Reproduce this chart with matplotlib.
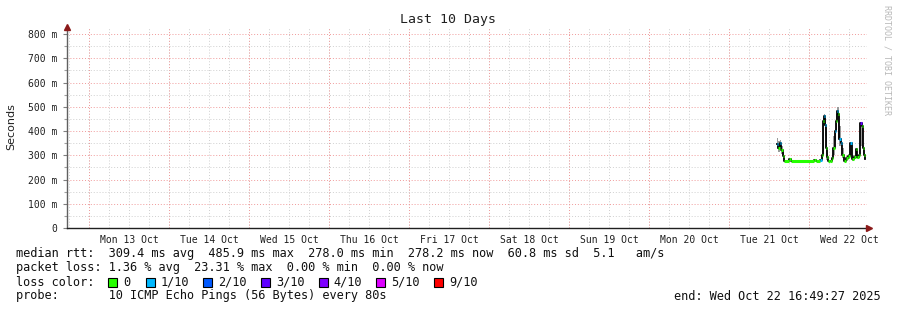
import matplotlib
matplotlib.use("Agg")
import matplotlib.pyplot as plt
import pandas as pd

# median rtt samples (ms), pings lost out of 10, and the smoke spread around them
sample_times = [
    "2025-10-21 14:15", "2025-10-21 14:42", "2025-10-21 15:09", "2025-10-21 15:36",
    "2025-10-21 16:03", "2025-10-21 16:30", "2025-10-21 18:00", "2025-10-21 18:27",
    "2025-10-22 01:30", "2025-10-22 02:06", "2025-10-22 03:09", "2025-10-22 03:45",
    "2025-10-22 04:03", "2025-10-22 04:21", "2025-10-22 04:39", "2025-10-22 04:57",
    "2025-10-22 05:19", "2025-10-22 05:42", "2025-10-22 06:18", "2025-10-22 06:49",
    "2025-10-22 07:12", "2025-10-22 07:39", "2025-10-22 08:06", "2025-10-22 08:24",
    "2025-10-22 08:42", "2025-10-22 09:05", "2025-10-22 09:27", "2025-10-22 09:49",
    "2025-10-22 10:21", "2025-10-22 11:01", "2025-10-22 11:42", "2025-10-22 12:09",
    "2025-10-22 12:23", "2025-10-22 12:49", "2025-10-22 13:30", "2025-10-22 14:01",
    "2025-10-22 14:29", "2025-10-22 15:00", "2025-10-22 15:23", "2025-10-22 15:45",
    "2025-10-22 16:07", "2025-10-22 16:30", "2025-10-22 16:48",
]
median_ms = [
    345, 330, 350, 322, 295, 278, 283, 278, 282, 278, 280, 300,
    440, 460, 425, 330, 294, 276, 278, 287, 330, 401, 440, 484,
    470, 367, 352, 301, 276, 287, 297, 330, 349, 283, 294, 325,
    291, 300, 434, 420, 331, 300, 283,
]
loss_pings = [
    1, 0, 1, 0, 0, 0, 0, 0, 0, 0, 1, 0,
    0, 1, 1, 0, 0, 0, 0, 0, 0, 1, 0, 1,
    0, 1, 1, 0, 0, 0, 0, 0, 1, 0, 0, 0,
    0, 0, 3, 0, 0, 0, 0,
]
smoke_lo_ms = [
    325, 315, 320, 305, 285, 277, 278, 277, 278, 277, 277, 280,
    300, 420, 380, 280, 280, 275, 276, 280, 300, 360, 400, 450,
    363, 340, 320, 290, 275, 278, 285, 300, 300, 278, 285, 290,
    283, 288, 340, 330, 310, 285, 278,
]
smoke_hi_ms = [
    372, 360, 365, 340, 318, 281, 288, 280, 286, 280, 285, 320,
    455, 470, 466, 400, 310, 280, 282, 300, 380, 410, 470, 500,
    498, 420, 370, 330, 280, 295, 305, 345, 355, 300, 300, 330,
    300, 320, 436, 434, 340, 310, 290,
]

loss_levels = [0, 1, 2, 3, 4, 5, 9]
loss_labels = ["0", "1/10", "2/10", "3/10", "4/10", "5/10", "9/10"]
loss_colors = ["#26ff00", "#00b8ff", "#0059ff", "#5e00ff", "#7e00ff", "#dd00ff", "#ff0000"]

end_time = pd.Timestamp("2025-10-22 16:49:27")
x_start = pd.Timestamp("2025-10-12 17:24")
x_end = pd.Timestamp("2025-10-22 17:24")

W, H = 897, 310
mono = "DejaVu Sans Mono"


def fx(x):
    return x / W


def fy(y):
    return 1 - y / H


def loss_color(n):
    col = loss_colors[0]
    for lvl, c in zip(loss_levels, loss_colors):
        if n >= lvl:
            col = c
    return col


fig = plt.figure(figsize=(W / 100, H / 100), dpi=100)
fig.patch.set_facecolor("white")
ax = fig.add_axes([fx(67), fy(228), 800 / W, 201 / H])

t = pd.to_datetime(sample_times)
t_edges = list(t[1:]) + [end_time]

# grid
dots = (0, (1, 2))
minor_lines = pd.date_range("2025-10-12 18:00", "2025-10-22 18:00", freq="6h")
day_lines = pd.date_range("2025-10-13", "2025-10-22", freq="D")
ax.vlines(minor_lines, 0, 1, transform=ax.get_xaxis_transform(), colors="#cfcfcf",
          linestyles=dots, linewidth=0.7, zorder=0)
ax.vlines(day_lines, 0, 1, transform=ax.get_xaxis_transform(), colors="#f09a9a",
          linestyles=dots, linewidth=0.7, zorder=0)
for v in range(50, 830, 50):
    if v % 100 == 0:
        ax.axhline(v, color="#f09a9a", linestyle=dots, linewidth=0.7, zorder=0)
    else:
        ax.axhline(v, color="#cfcfcf", linestyle=dots, linewidth=0.7, zorder=0)

# smoke
ax.fill_between(list(t) + [end_time], smoke_lo_ms + [smoke_lo_ms[-1]],
                smoke_hi_ms + [smoke_hi_ms[-1]], step="post", color="#9a9a9a",
                linewidth=0, zorder=2)
ax.step(list(t) + [end_time], median_ms + [median_ms[-1]], where="post",
        color="black", linewidth=1.3, zorder=3)
# median colored by loss
for t0, t1, m, n in zip(t, t_edges, median_ms, loss_pings):
    ax.hlines(m, t0, t1, colors=loss_color(n), linewidth=2.2, zorder=4)

ax.set_xlim(x_start, x_end)
ax.set_ylim(0, 829)

noon_ticks = pd.date_range("2025-10-13 12:00", "2025-10-22 12:00", freq="D")
ax.set_xticks(noon_ticks)
ax.set_xticklabels([d.strftime("%a %d %b") for d in noon_ticks], fontfamily=mono,
                   fontsize=7, color="#202020")
ax.tick_params(axis="x", length=0, pad=5)

yt = list(range(0, 801, 100))
ax.set_yticks(yt)
ax.set_yticklabels(["0" if v == 0 else f"{v} m" for v in yt], fontfamily=mono,
                   fontsize=7, color="#202020")
ax.set_yticks(range(50, 801, 100), minor=True)
ax.tick_params(axis="y", which="major", length=3, width=0.8, color="#808080", pad=4)
ax.tick_params(axis="y", which="minor", length=2, width=0.8, color="#a0a0a0")

for s in ["top", "right"]:
    ax.spines[s].set_visible(False)
ax.spines["left"].set_color("#606060")
ax.spines["left"].set_linewidth(1)
ax.spines["bottom"].set_color("#202020")
ax.spines["bottom"].set_linewidth(1)

# axis arrows
ax.plot([0], [1.0], marker="^", markersize=4, color="#8b1a1a", transform=ax.transAxes,
        clip_on=False, zorder=6)
ax.plot([1.003], [0], marker=">", markersize=4, color="#8b1a1a", transform=ax.transAxes,
        clip_on=False, zorder=6)

fig.text(fx(448), fy(19), "Last 10 Days", ha="center", va="center", fontfamily=mono,
         fontsize=9.5, color="#202020")
fig.text(fx(11), fy(127), "Seconds", ha="center", va="center", rotation=90,
         fontfamily="DejaVu Sans", fontsize=8, color="#202020")
fig.text(fx(887), fy(5), "RRDTOOL / TOBI OETIKER", ha="center", va="top", rotation=270,
         fontfamily=mono, fontsize=6, color="#b8b8b8")

# legend block
lfs = 8.55
fig.text(fx(16), fy(254),
         "median rtt:  309.4 ms avg  485.9 ms max  278.0 ms min  278.2 ms now  60.8 ms sd  5.1   am/s",
         ha="left", va="center", fontfamily=mono, fontsize=lfs, color="#101010")
fig.text(fx(16), fy(268),
         "packet loss: 1.36 % avg  23.31 % max  0.00 % min  0.00 % now",
         ha="left", va="center", fontfamily=mono, fontsize=lfs, color="#101010")
fig.text(fx(16), fy(282), "loss color:", ha="left", va="center", fontfamily=mono,
         fontsize=lfs, color="#101010")
label_x = [123, 160.5, 218, 276, 333.5, 391, 449]
for lx, lab, col in zip(label_x, loss_labels, loss_colors):
    fig.patches.append(plt.Rectangle((fx(lx - 15), fy(286.5)), 9 / W, 9 / H,
                                     transform=fig.transFigure, facecolor=col,
                                     edgecolor="black", linewidth=0.8))
    fig.text(fx(lx), fy(282), lab, ha="left", va="center", fontfamily=mono,
             fontsize=lfs, color="#101010")
fig.text(fx(16), fy(296), "probe:       10 ICMP Echo Pings (56 Bytes) every 80s",
         ha="left", va="center", fontfamily=mono, fontsize=lfs, color="#101010")
fig.text(fx(881), fy(296), "end: Wed Oct 22 16:49:27 2025", ha="right", va="center",
         fontfamily=mono, fontsize=lfs, color="#101010")

fig.savefig("out.png", dpi=100)
